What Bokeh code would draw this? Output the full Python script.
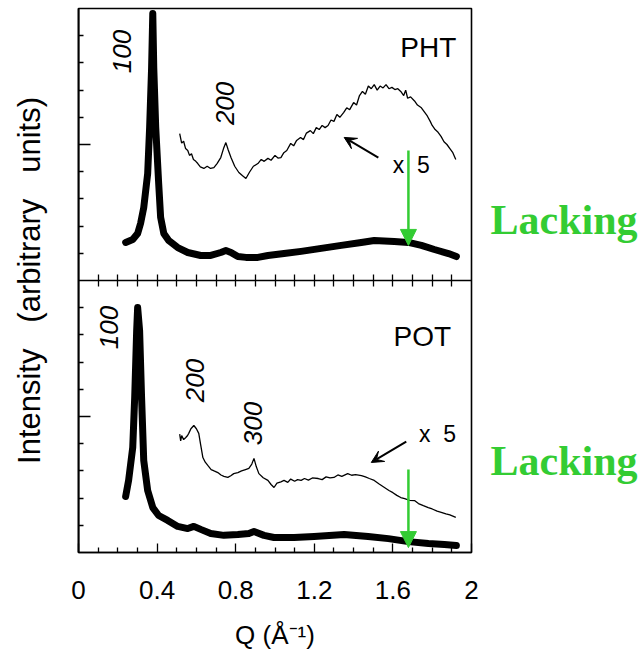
import math
from bokeh.plotting import figure
from bokeh.models import Range1d, LinearAxis, FixedTicker, Label, Arrow, VeeHead, NormalHead
from bokeh.embed import file_html
from bokeh.resources import INLINE

# ---------------- data ----------------
# PHT (upper panel), thick curve (x1)
pht_q_thick = [0.240, 0.276, 0.301, 0.316, 0.332, 0.352, 0.362, 0.372, 0.378, 0.383, 0.393,
               0.408, 0.418, 0.434, 0.459, 0.505, 0.556, 0.622, 0.673, 0.724, 0.750, 0.776,
               0.811, 0.852, 0.913, 0.964, 1.046, 1.133, 1.235, 1.337, 1.439, 1.505, 1.607,
               1.679, 1.745, 1.811, 1.883, 1.923]
pht_i_thick = [1.40, 1.51, 1.73, 2.10, 2.68, 3.93, 5.63, 7.83, 9.82, 7.83, 5.63,
               3.57, 2.32, 1.73, 1.47, 1.21, 1.03, 0.92, 0.92, 1.03, 1.10, 1.03,
               0.88, 0.85, 0.85, 0.92, 0.99, 1.07, 1.18, 1.29, 1.40, 1.47, 1.43,
               1.40, 1.29, 1.14, 0.99, 0.88]

# PHT, magnified curve (x5)
pht_q_x5 = [0.515, 0.525, 0.535, 0.545, 0.556, 0.565, 0.575, 0.585, 0.597, 0.607, 0.62, 0.638,
            0.655, 0.672, 0.689, 0.705, 0.724, 0.738, 0.75, 0.762, 0.776, 0.795, 0.816, 0.835,
            0.852, 0.87, 0.89, 0.913, 0.93, 0.945, 0.964, 0.98, 1.0, 1.015, 1.03, 1.045,
            1.06, 1.08, 1.095, 1.11, 1.13, 1.145, 1.16, 1.18, 1.195, 1.21, 1.225, 1.24,
            1.255, 1.27, 1.285, 1.30, 1.315, 1.33, 1.35, 1.365, 1.38, 1.40, 1.415, 1.43,
            1.445, 1.46, 1.475, 1.49, 1.505, 1.52, 1.535, 1.55, 1.565, 1.58, 1.595, 1.61,
            1.625, 1.64, 1.655, 1.665, 1.675, 1.69, 1.71, 1.725, 1.745, 1.76, 1.775, 1.79,
            1.80, 1.815, 1.83, 1.845, 1.86, 1.875, 1.89, 1.905, 1.92]
pht_i_x5 = [5.40, 5.05, 5.12, 4.85, 4.78, 4.60, 4.66, 4.45, 4.38, 4.30, 4.18, 4.12,
            4.20, 4.12, 4.15, 4.30, 4.52, 4.85, 5.07, 4.80, 4.52, 4.20, 3.97, 3.85,
            3.75, 3.98, 4.20, 4.30, 4.45, 4.38, 4.49, 4.42, 4.60, 4.50, 4.52, 4.70,
            4.78, 5.04, 4.95, 5.15, 5.26, 5.18, 5.42, 5.51, 5.40, 5.62, 5.55, 5.70,
            5.62, 5.70, 5.90, 5.85, 6.10, 6.00, 6.18, 6.35, 6.28, 6.54, 6.45, 6.80,
            6.95, 6.85, 7.15, 7.05, 7.20, 7.00, 7.15, 7.08, 7.20, 7.05, 7.10, 7.02,
            7.05, 6.95, 6.80, 7.00, 6.70, 6.75, 6.60, 6.45, 6.35, 6.20, 6.05, 5.85,
            5.70, 5.55, 5.45, 5.30, 5.10, 5.00, 4.85, 4.70, 4.45]

# POT (lower panel), thick curve (x1)
pot_q_thick = [0.240, 0.255, 0.276, 0.286, 0.296, 0.301, 0.311, 0.321, 0.332, 0.352, 0.378,
               0.408, 0.454, 0.505, 0.556, 0.587, 0.622, 0.673, 0.740, 0.811, 0.867, 0.893,
               0.944, 0.995, 1.097, 1.199, 1.352, 1.474, 1.577, 1.679, 1.781, 1.862, 1.923]
pot_i_thick = [2.06, 2.65, 3.86, 5.70, 8.16, 9.01, 8.16, 5.70, 3.38, 2.28, 1.65,
               1.36, 1.18, 0.96, 0.88, 0.96, 0.85, 0.70, 0.63, 0.66, 0.70, 0.77,
               0.63, 0.55, 0.55, 0.59, 0.66, 0.59, 0.51, 0.40, 0.33, 0.29, 0.26]

# POT, magnified curve (x5)
pot_q_x5 = [0.515, 0.52, 0.525, 0.535, 0.546, 0.555, 0.561, 0.572, 0.587, 0.60, 0.612, 0.622,
            0.633, 0.645, 0.658, 0.675, 0.69, 0.709, 0.725, 0.74, 0.76, 0.775, 0.79, 0.811,
            0.83, 0.85, 0.867, 0.882, 0.893, 0.905, 0.918, 0.94, 0.964, 0.98, 0.995, 1.01,
            1.03, 1.046, 1.065, 1.08, 1.10, 1.115, 1.133, 1.15, 1.17, 1.19, 1.22, 1.24,
            1.26, 1.28, 1.30, 1.32, 1.34, 1.37, 1.39, 1.41, 1.44, 1.46, 1.48, 1.505,
            1.53, 1.555, 1.58, 1.60, 1.62, 1.64, 1.66, 1.685, 1.71, 1.73, 1.755, 1.78,
            1.80, 1.825, 1.85, 1.87, 1.89, 1.92]
pot_i_x5 = [4.35, 4.10, 4.30, 4.15, 4.23, 4.30, 4.38, 4.55, 4.67, 4.55, 4.38, 3.95,
            3.49, 3.32, 3.20, 3.05, 3.00, 2.94, 2.85, 2.80, 2.76, 2.82, 2.90, 2.94,
            3.00, 3.05, 3.09, 3.25, 3.46, 3.15, 2.90, 2.75, 2.65, 2.50, 2.39, 2.55,
            2.60, 2.65, 2.58, 2.70, 2.62, 2.68, 2.65, 2.72, 2.66, 2.74, 2.72, 2.68,
            2.78, 2.74, 2.76, 2.85, 2.80, 2.90, 2.84, 2.86, 2.83, 2.78, 2.72, 2.65,
            2.52, 2.40, 2.28, 2.20, 2.10, 2.02, 1.98, 1.92, 1.91, 1.80, 1.72, 1.65,
            1.60, 1.52, 1.47, 1.42, 1.38, 1.29]

# axis ticks
x_major_ticks = [0, 0.4, 0.8, 1.2, 1.6, 2]
x_tick_labels = ["0", "0.4", "0.8", "1.2", "1.6", "2"]
x_minor_ticks = [0.1, 0.2, 0.3, 0.5, 0.6, 0.7, 0.9, 1.0, 1.1, 1.3, 1.4, 1.5, 1.7, 1.8, 1.9]
x_divider_ticks = [0.1, 0.2, 0.3, 0.4, 0.5, 0.6, 0.7, 0.8, 0.9, 1.0,
                   1.1, 1.2, 1.3, 1.4, 1.5, 1.6, 1.7, 1.8, 1.9]
y_long_ticks = [5, 15]
y_short_ticks = [1, 2, 3, 4, 6, 7, 8, 9, 11, 12, 13, 14, 16, 17, 18, 19]
# side notes, placed on the right-hand axis
note_positions = [12.24, 3.35]
note_labels = ["Lacking", "Lacking"]

FONT = "Liberation Sans"
GREEN = "#33CC33"

# ---------------- figure ----------------
p = figure(width=642, height=657, output_backend="svg", toolbar_location=None,
           x_range=Range1d(0, 2), y_range=Range1d(0, 20),
           min_border_left=78, min_border_right=171, min_border_top=8, min_border_bottom=105)
# upper panel uses its own scale: its 0..10 maps onto the upper half
p.extra_y_ranges = {"top": Range1d(-10, 10)}

p.background_fill_color = "white"
p.border_fill_color = "white"
p.outline_line_color = "black"
p.outline_line_width = 1.6
p.xgrid.visible = False
p.ygrid.visible = False

# bottom x axis
xa = p.xaxis[0]
xa.ticker = FixedTicker(ticks=x_major_ticks, minor_ticks=x_minor_ticks)
xa.major_label_overrides = dict(zip(x_major_ticks, x_tick_labels))
xa.major_tick_in = 9
xa.major_tick_out = 0
xa.minor_tick_in = 5
xa.minor_tick_out = 0
xa.axis_line_width = 1.6
xa.major_tick_line_width = 1.3
xa.minor_tick_line_width = 1.3
xa.major_label_text_font = FONT
xa.major_label_text_font_size = "26px"
xa.major_label_text_color = "black"
xa.major_label_standoff = 28
xa.axis_label = "Q (Å\u207b\u00b9)"
xa.axis_label_text_font = FONT
xa.axis_label_text_font_size = "26px"
xa.axis_label_text_font_style = "normal"
xa.axis_label_text_color = "black"
xa.axis_label_standoff = 18

# left y axis: short ticks and the axis title
ya = p.yaxis[0]
ya.ticker = FixedTicker(ticks=[], minor_ticks=y_short_ticks)
ya.minor_tick_in = 5
ya.minor_tick_out = 0
ya.axis_line_width = 1.6
ya.minor_tick_line_width = 1.3
ya.axis_label = "Intensity \u00a0 (arbitrary \u00a0 units)"
ya.axis_label_text_font = FONT
ya.axis_label_text_font_size = "31px"
ya.axis_label_text_font_style = "normal"
ya.axis_label_text_color = "black"
ya.axis_label_standoff = 32

# long y ticks, drawn on the frame edge
long_axis = LinearAxis(fixed_location=0, ticker=FixedTicker(ticks=[], minor_ticks=y_long_ticks),
                       minor_tick_in=12, minor_tick_out=0, minor_tick_line_width=1.3,
                       axis_line_width=1.6)
p.add_layout(long_axis, "left")

# divider between the two panels, with ticks crossing it
div_axis = LinearAxis(fixed_location=10, ticker=FixedTicker(ticks=[], minor_ticks=x_divider_ticks),
                      minor_tick_in=6, minor_tick_out=6, minor_tick_line_width=1.3,
                      axis_line_width=1.6)
p.add_layout(div_axis, "below")

# right axis carrying the green notes
note_axis = LinearAxis(ticker=FixedTicker(ticks=note_positions, minor_ticks=[]),
                       major_label_overrides=dict(zip(note_positions, note_labels)),
                       major_tick_in=0, major_tick_out=0, axis_line_color=None,
                       major_label_standoff=19,
                       major_label_text_font="Liberation Serif",
                       major_label_text_font_style="bold",
                       major_label_text_font_size="42px",
                       major_label_text_color=GREEN)
p.add_layout(note_axis, "right")

# ---------------- curves ----------------
p.line(pht_q_thick, pht_i_thick, y_range_name="top", line_color="black", line_width=7,
       line_join="round", line_cap="round")
p.line(pht_q_x5, pht_i_x5, y_range_name="top", line_color="black", line_width=1.3)
p.line(pot_q_thick, pot_i_thick, line_color="black", line_width=7,
       line_join="round", line_cap="round")
p.line(pot_q_x5, pot_i_x5, line_color="black", line_width=1.3)

# ---------------- annotations ----------------
def lab(x, y, text, size, rng="default", angle=0.0, style="normal"):
    p.add_layout(Label(x=x, y=y, text=text, angle=angle, y_range_name=rng,
                       text_font=FONT, text_font_size=size, text_font_style=style,
                       text_color="black", text_align="center", text_baseline="middle"))

half_pi = math.pi / 2
# upper panel
lab(0.222, 8.42, "100", "26px", rng="top", angle=half_pi, style="italic")
lab(0.745, 6.51, "200", "26px", rng="top", angle=half_pi, style="italic")
lab(1.78, 8.55, "PHT", "28px", rng="top")
lab(1.694, 4.23, "x\u00a0 5", "23px", rng="top")
# lower panel
lab(0.156, 8.27, "100", "26px", angle=half_pi, style="italic")
lab(0.592, 6.32, "200", "26px", angle=half_pi, style="italic")
lab(0.888, 4.74, "300", "26px", angle=half_pi, style="italic")
lab(1.75, 7.95, "POT", "28px")
lab(1.827, 4.34, "x\u00a0 5", "23px")

# black arrows pointing at the magnified curves
p.add_layout(Arrow(x_start=1.526, y_start=4.52, x_end=1.352, y_end=5.26, y_range_name="top",
                   line_color="black", line_width=2,
                   end=VeeHead(size=12, fill_color="black", line_color="black", line_width=1)))
p.add_layout(Arrow(x_start=1.668, y_start=4.08, x_end=1.49, y_end=3.31,
                   line_color="black", line_width=2,
                   end=VeeHead(size=12, fill_color="black", line_color="black", line_width=1)))

# green arrows
p.add_layout(Arrow(x_start=1.679, y_start=4.78, x_end=1.679, y_end=1.29, y_range_name="top",
                   line_color=GREEN, line_width=2.5,
                   end=NormalHead(size=16, fill_color=GREEN, line_color=GREEN, line_width=1)))
p.add_layout(Arrow(x_start=1.679, y_start=3.05, x_end=1.679, y_end=0.18,
                   line_color=GREEN, line_width=2.5,
                   end=NormalHead(size=16, fill_color=GREEN, line_color=GREEN, line_width=1)))

open("out.html", "w").write(file_html(p, INLINE))
